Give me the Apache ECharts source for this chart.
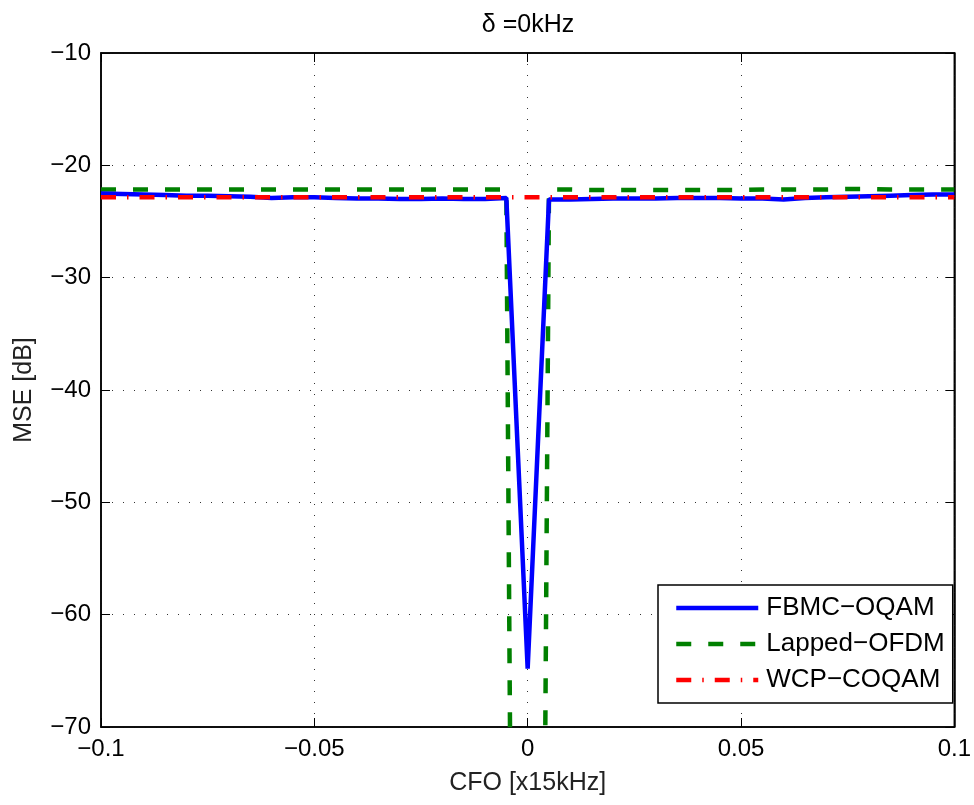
<!DOCTYPE html>
<html>
	<head>
		<meta charset="UTF-8">
		<title>MSE vs CFO</title>
		<script src="https://cdn.jsdelivr.net/npm/echarts@6/dist/echarts.min.js"></script>
		<style type="text/css">
			html, body { margin: 0; padding: 0; background: #fff; }
		</style>
	</head>
	<body>
		<div id="box" style="width:974px;height:805px;"></div>

		<script type="text/javascript">
			// CFO axis points [x15kHz]
			var cfo = [-0.1, -0.095, -0.09, -0.085, -0.08, -0.075, -0.07, -0.065, -0.06, -0.055,
				-0.05, -0.045, -0.04, -0.035, -0.03, -0.025, -0.02, -0.015, -0.01, -0.005,
				0, 0.005, 0.01, 0.015, 0.02, 0.025, 0.03, 0.035, 0.04, 0.045,
				0.05, 0.055, 0.06, 0.065, 0.07, 0.075, 0.08, 0.085, 0.09, 0.095, 0.1];

			// MSE [dB]
			var fbmc = [-22.5, -22.55, -22.6, -22.65, -22.7, -22.7, -22.75, -22.8, -22.9, -22.85,
				-22.85, -22.9, -22.95, -22.95, -23.0, -23.0, -22.95, -23.0, -23.0, -22.9,
				-64.8, -23.05, -23.05, -23.0, -22.95, -22.95, -22.95, -22.9, -22.9, -22.9,
				-22.95, -22.95, -23.05, -22.9, -22.85, -22.8, -22.75, -22.7, -22.65, -22.6, -22.6];
			var lapped = [-22.15, -22.15, -22.15, -22.15, -22.15, -22.15, -22.15, -22.15, -22.15, -22.15,
				-22.15, -22.15, -22.15, -22.15, -22.15, -22.15, -22.15, -22.15, -22.15, -22.15,
				-300, -22.15, -22.15, -22.2, -22.2, -22.2, -22.2, -22.2, -22.2, -22.2,
				-22.2, -22.15, -22.15, -22.15, -22.15, -22.1, -22.1, -22.15, -22.15, -22.15, -22.15];
			var wcp = [-22.85, -22.85, -22.85, -22.85, -22.85, -22.85, -22.85, -22.85, -22.85, -22.85,
				-22.85, -22.85, -22.85, -22.85, -22.85, -22.85, -22.85, -22.85, -22.85, -22.85,
				-22.85, -22.85, -22.85, -22.85, -22.85, -22.85, -22.85, -22.85, -22.85, -22.85,
				-22.85, -22.85, -22.85, -22.85, -22.85, -22.85, -22.85, -22.85, -22.85, -22.85, -22.85];

			var xTicks = [-0.1, -0.05, 0, 0.05, 0.1];
			var yTicks = [-70, -60, -50, -40, -30, -20, -10];
			var names = ['FBMC\u2212OQAM', 'Lapped\u2212OFDM', 'WCP\u2212COQAM'];

			var font = '"Liberation Sans", Arial, sans-serif';

			function pairs(ys) {
				return cfo.map(function (x, i) { return [x, ys[i]]; });
			}
			function fmt(v) {
				return String(v).replace('-', '\u2212');
			}

			var myChart = echarts.init(document.getElementById('box'));

			var gridLine = { show: true, lineStyle: { color: '#333', width: 1, type: [1, 10] } };

			var option = {
				backgroundColor: '#fff',
				animation: false,
				title: {
					text: '\u03b4 =0kHz',
					left: 528,
					top: 13,
					padding: 0,
					textAlign: 'center',
					textStyle: { fontFamily: font, fontSize: 25, fontWeight: 'normal', color: '#000' }
				},
				grid: {
					left: 101, right: 18, top: 53, bottom: 78,
					show: true, borderColor: '#000', borderWidth: 1.5
				},
				legend: {
					orient: 'vertical',
					left: 658,
					top: 585,
					padding: [10, 8, 10, 16],
					itemWidth: 82,
					itemHeight: 14,
					itemGap: 10,
					backgroundColor: '#fff',
					borderColor: '#000',
					borderWidth: 1.5,
					borderRadius: 0,
					data: names,
					itemStyle: { opacity: 0 },
					lineStyle: { width: 4.5 },
					textStyle: { fontFamily: font, fontSize: 26, color: '#000', lineHeight: 26, padding: [0, 0, 0, 3] }
				},
				xAxis: [{
					type: 'value',
					min: -0.1, max: 0.1, interval: 0.05,
					name: 'CFO [x15kHz]',
					nameLocation: 'middle',
					nameGap: 44,
					nameTextStyle: { fontFamily: font, fontSize: 25, color: '#222' },
					axisLine: { show: true, onZero: false, lineStyle: { color: '#000', width: 1.5 } },
					axisTick: { show: true, inside: true, length: 9, lineStyle: { color: '#000' } },
					axisLabel: {
						fontFamily: font, fontSize: 24, color: '#000', margin: 10,
						formatter: function (v) { return xTicks.indexOf(v) >= 0 ? fmt(v) : ''; }
					},
					splitLine: gridLine
				}, {
					type: 'value', position: 'top',
					min: -0.1, max: 0.1, interval: 0.05,
					axisLine: { show: true, onZero: false, lineStyle: { color: '#000', width: 1.5 } },
					axisTick: { show: true, inside: true, length: 9, lineStyle: { color: '#000' } },
					axisLabel: { show: false },
					splitLine: { show: false }
				}],
				yAxis: [{
					type: 'value',
					min: -70, max: -10, interval: 10,
					name: 'MSE [dB]',
					nameLocation: 'middle',
					nameGap: 64,
					nameTextStyle: { fontFamily: font, fontSize: 25, color: '#222' },
					axisLine: { show: true, onZero: false, lineStyle: { color: '#000', width: 1.5 } },
					axisTick: { show: true, inside: true, length: 9, lineStyle: { color: '#000' } },
					axisLabel: {
						fontFamily: font, fontSize: 24, color: '#000', margin: 10,
						formatter: function (v) { return yTicks.indexOf(v) >= 0 ? fmt(v) : ''; }
					},
					splitLine: gridLine
				}, {
					type: 'value', position: 'right',
					min: -70, max: -10, interval: 10,
					axisLine: { show: true, onZero: false, lineStyle: { color: '#000', width: 1.5 } },
					axisTick: { show: true, inside: true, length: 9, lineStyle: { color: '#000' } },
					axisLabel: { show: false },
					splitLine: { show: false }
				}],
				series: [{
					name: names[0],
					type: 'line',
					symbol: 'none',
					clip: true,
					z: 3,
					data: pairs(fbmc),
					itemStyle: { color: '#0000ff' },
					lineStyle: { color: '#0000ff', width: 4.5 }
				}, {
					name: names[1],
					type: 'line',
					symbol: 'none',
					clip: true,
					z: 2,
					data: pairs(lapped),
					itemStyle: { color: '#008000' },
					lineStyle: { color: '#008000', width: 4.5, type: [15, 17] }
				}, {
					name: names[2],
					type: 'line',
					symbol: 'none',
					clip: true,
					z: 4,
					data: pairs(wcp),
					itemStyle: { color: '#ff0000' },
					lineStyle: { color: '#ff0000', width: 4.5, type: [15, 11, 1.5, 11] }
				}]
			};
			myChart.setOption(option);
		</script>
	</body>
</html>
